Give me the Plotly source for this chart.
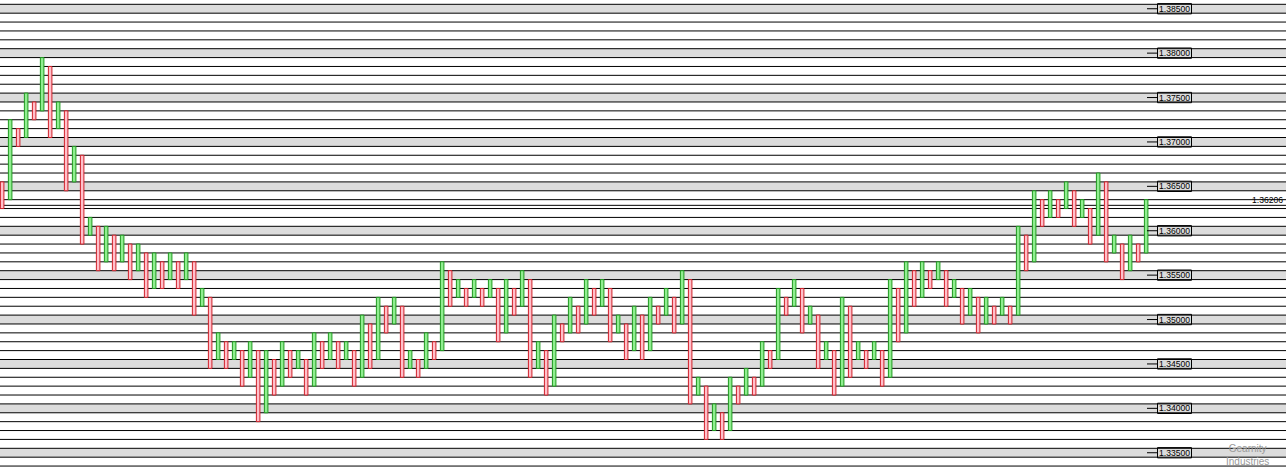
import plotly.graph_objects as go

W, H = 1286, 474

# ---- data: column extents (prices) and direction ----
bar_high = [
    1.3655, 1.3725, 1.3715, 1.3755, 1.3745, 1.3795, 1.3785, 1.3745, 1.3735, 1.3695,
    1.3685, 1.3615, 1.3605, 1.3605, 1.3595, 1.3595, 1.3585, 1.3585, 1.3575, 1.3575,
    1.3565, 1.3575, 1.3565, 1.3575, 1.3565, 1.3535, 1.3525, 1.3485, 1.3475, 1.3475,
    1.3465, 1.3475, 1.3465, 1.3465, 1.3455, 1.3475, 1.3465, 1.3465, 1.3455, 1.3485,
    1.3475, 1.3485, 1.3475, 1.3475, 1.3465, 1.3505, 1.3495, 1.3525, 1.3515, 1.3525,
    1.3515, 1.3465, 1.3455, 1.3485, 1.3475, 1.3565, 1.3555, 1.3545, 1.3535, 1.3545,
    1.3535, 1.3545, 1.3535, 1.3545, 1.3535, 1.3555, 1.3545, 1.3475, 1.3465, 1.3505,
    1.3495, 1.3525, 1.3515, 1.3545, 1.3535, 1.3545, 1.3535, 1.3505, 1.3495, 1.3515,
    1.3505, 1.3525, 1.3515, 1.3535, 1.3525, 1.3555, 1.3545, 1.3435, 1.3425, 1.3405,
    1.3395, 1.3435, 1.3425, 1.3445, 1.3435, 1.3475, 1.3465, 1.3535, 1.3525, 1.3545,
    1.3535, 1.3515, 1.3505, 1.3475, 1.3465, 1.3525, 1.3515, 1.3475, 1.3465, 1.3475,
    1.3465, 1.3545, 1.3535, 1.3565, 1.3555, 1.3565, 1.3555, 1.3565, 1.3555, 1.3545,
    1.3535, 1.3535, 1.3525, 1.3525, 1.3515, 1.3525, 1.3515, 1.3605, 1.3595, 1.3645,
    1.3635, 1.3645, 1.3635, 1.3655, 1.3645, 1.3635, 1.3625, 1.3665, 1.3655, 1.3595,
    1.3585, 1.3595, 1.3585, 1.3635,
]
bar_low = [
    1.3625, 1.3635, 1.3695, 1.3705, 1.3725, 1.3735, 1.3705, 1.3715, 1.3645, 1.3655,
    1.3585, 1.3595, 1.3555, 1.3565, 1.3555, 1.3565, 1.3545, 1.3555, 1.3525, 1.3535,
    1.3535, 1.3545, 1.3535, 1.3545, 1.3505, 1.3515, 1.3445, 1.3455, 1.3445, 1.3455,
    1.3425, 1.3435, 1.3385, 1.3395, 1.3415, 1.3425, 1.3435, 1.3445, 1.3415, 1.3425,
    1.3445, 1.3455, 1.3445, 1.3455, 1.3425, 1.3435, 1.3445, 1.3455, 1.3485, 1.3495,
    1.3435, 1.3445, 1.3435, 1.3445, 1.3455, 1.3465, 1.3515, 1.3525, 1.3515, 1.3525,
    1.3515, 1.3525, 1.3475, 1.3485, 1.3505, 1.3515, 1.3435, 1.3445, 1.3415, 1.3425,
    1.3475, 1.3485, 1.3485, 1.3495, 1.3505, 1.3515, 1.3475, 1.3485, 1.3455, 1.3465,
    1.3455, 1.3465, 1.3495, 1.3505, 1.3485, 1.3495, 1.3405, 1.3415, 1.3365, 1.3375,
    1.3365, 1.3375, 1.3405, 1.3415, 1.3415, 1.3425, 1.3445, 1.3455, 1.3505, 1.3515,
    1.3485, 1.3495, 1.3445, 1.3455, 1.3415, 1.3425, 1.3435, 1.3455, 1.3445, 1.3455,
    1.3425, 1.3435, 1.3475, 1.3485, 1.3515, 1.3525, 1.3535, 1.3545, 1.3515, 1.3525,
    1.3495, 1.3505, 1.3485, 1.3495, 1.3495, 1.3505, 1.3495, 1.3505, 1.3555, 1.3565,
    1.3605, 1.3615, 1.3615, 1.3625, 1.3605, 1.3615, 1.3585, 1.3595, 1.3565, 1.3575,
    1.3545, 1.3555, 1.3565, 1.3575,
]
bar_dir = list(
    "DUDUDUDUDUDUDUDUDUDUDUDUDUDUDUDUDUDUDUDUDUDUDUDUDUDUDUDUDUDUDUDUDUDUDUDU"
    "DUDUDUDUDUDUDUDUDUDUDUDUDUDUDUDUDUDUDUDUDUDUDUDUDUDUDUDUDUDUDUDUDUDUDUDU"
)

grid_top = 1.3855          # first grid line
grid_step = 0.001          # box size
grid_count = 54
label_levels = [1.385, 1.380, 1.375, 1.370, 1.365, 1.360, 1.355, 1.350, 1.345, 1.340, 1.335]
label_texts = ["1.38500", "1.38000", "1.37500", "1.37000", "1.36500", "1.36000",
               "1.35500", "1.35000", "1.34500", "1.34000", "1.33500"]
price_line = 1.36286
price_text = "1.36206"
watermark = "Gearnity<br>Industries"

# ---- scales ----
Y_MIN, Y_MAX = 1.332606, 1.385984
X_MIN, X_MAX = -0.269, 160.48

UP_FILL, UP_EDGE = "#90ee90", "#1f9a1f"
DN_FILL, DN_EDGE = "#ffc0cb", "#d0202a"

fills = [UP_FILL if d == "U" else DN_FILL for d in bar_dir]
edges = [UP_EDGE if d == "U" else DN_EDGE for d in bar_dir]

fig = go.Figure()
fig.add_trace(go.Bar(
    x=list(range(len(bar_high))),
    y=[h - l for h, l in zip(bar_high, bar_low)],
    base=bar_low,
    width=0.44,
    marker=dict(color=fills, line=dict(color=edges, width=1)),
    hoverinfo="skip",
))

shapes = []
# grey bands around labelled levels
for lv in label_levels:
    shapes.append(dict(type="rect", xref="paper", yref="y", x0=0, x1=1,
                       y0=lv - grid_step / 2, y1=lv + grid_step / 2,
                       fillcolor="#dcdcdc", line=dict(width=0), layer="below"))
# horizontal grid lines
for k in range(grid_count):
    lv = grid_top - k * grid_step
    shapes.append(dict(type="line", xref="paper", yref="y", x0=0, x1=1, y0=lv, y1=lv,
                       line=dict(color="black", width=1), layer="below"))
shapes.append(dict(type="line", xref="paper", yref="y", x0=0, x1=1,
                   y0=price_line, y1=price_line, line=dict(color="black", width=1), layer="below"))

annotations = []
box_h = 0.00058
for lv, txt in zip(label_levels, label_texts):
    shapes.append(dict(type="line", xref="paper", yref="y", x0=1147 / W, x1=1157 / W,
                       y0=lv, y1=lv, line=dict(color="black", width=1)))
    shapes.append(dict(type="rect", xref="paper", yref="y", x0=1157.5 / W, x1=1191.5 / W,
                       y0=lv - box_h, y1=lv + box_h, line=dict(color="black", width=1)))
    annotations.append(dict(xref="paper", yref="y", x=1174.5 / W, y=lv, text=txt,
                            showarrow=False, xanchor="center", yanchor="middle",
                            font=dict(family="Liberation Sans", size=8.6, color="black")))

annotations.append(dict(xref="paper", yref="paper", x=1285 / W, y=1 - 200 / H, text=price_text,
                        showarrow=False, xanchor="right", yanchor="middle",
                        font=dict(family="Liberation Sans", size=8.6, color="black")))

# watermark
annotations.append(dict(xref="paper", yref="paper", x=1247 / W, y=1 - 455 / H, text=watermark,
                        showarrow=False, xanchor="center", yanchor="middle", align="center",
                        font=dict(family="Liberation Sans", size=10, color="#9a9a9a")))

fig.update_layout(
    width=W, height=H,
    margin=dict(l=0, r=0, t=0, b=0),
    paper_bgcolor="white", plot_bgcolor="white",
    showlegend=False,
    xaxis=dict(range=[X_MIN, X_MAX], visible=False, fixedrange=True),
    yaxis=dict(range=[Y_MIN, Y_MAX], visible=False, fixedrange=True),
    shapes=shapes,
    annotations=annotations,
)

fig.write_html("out.html", config={"displayModeBar": False},
               post_script="document.body.style.margin='0';")
